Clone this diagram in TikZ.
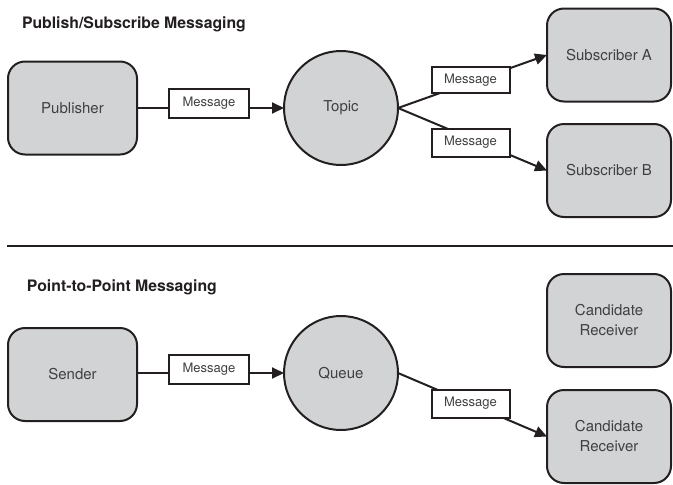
\documentclass[tikz,border=0pt]{standalone}
\usepackage{fontspec}
\setmainfont{TeX Gyre Heros}
\usetikzlibrary{arrows.meta}
\definecolor{boxgray}{HTML}{D1D3D4}
\definecolor{ink}{HTML}{231F20}
\definecolor{labelgray}{HTML}{404040}
\begin{document}
\begin{tikzpicture}[x=1pt,y=-1pt,
  every node/.style={inner sep=0pt,outer sep=0pt},
  party/.style={draw=ink,line width=2pt,fill=boxgray,rounded corners=17pt,
    minimum width=124pt,minimum height=93pt,align=center,
    font=\fontsize{15}{20}\selectfont,text=labelgray},
  hub/.style={draw=ink,line width=2pt,fill=boxgray,circle,minimum size=114pt,
    font=\fontsize{15}{20}\selectfont,text=labelgray},
  msgbox/.style={draw=ink,line width=2pt,fill=white,minimum width=78pt,
    minimum height=28pt,font=\fontsize{13}{15}\selectfont,text=labelgray},
  flow/.style={draw=ink,line width=2pt,-{Triangle[length=12pt,width=11pt]}},
  title/.style={anchor=base west,font=\fontsize{15.8}{18}\selectfont\bfseries,text=ink}]
\useasboundingbox (0,0) rectangle (673,485);

% Publish/Subscribe section
\node[title] (t1) at (22,28) {Publish/Subscribe Messaging};
\node[party,minimum width=129pt] (pub) at (72.5,108) {Publisher};
\node[hub] (topic) at (341,108) {Topic};
\node[party] (subA) at (609,55) {Subscriber A};
\node[party] (subB) at (609,170.5) {Subscriber B};

\draw[flow] (pub.east) -- (topic.west);
\draw[flow] (topic.east) -- (subA.west);
\draw[flow] (topic.east) -- (subB.west);

\node[msgbox,minimum width=80pt,minimum height=29pt] (m1) at (209,103.5) {Message};
\node[msgbox,minimum height=26pt] (m2) at (470.5,80) {Message};
\node[msgbox] (m3) at (470.5,142.5) {Message};

% divider
\coordinate (dl) at (7,246);
\coordinate (dr) at (673,246);
\draw[ink,line width=1.8pt] (dl) -- (dr);

% Point-to-Point section
\node[title] (t2) at (27,291.5) {Point-to-Point Messaging};
\node[party,minimum width=129pt] (snd) at (72.5,374.5) {Sender};
\node[hub] (queue) at (341,373) {Queue};
\node[party] (rc1) at (609,320.5) {Candidate\\Receiver};
\node[party] (rc2) at (609,436.5) {Candidate\\Receiver};

\draw[flow] (snd.east |- queue.west) -- (queue.west);
\draw[flow] (queue.east) -- (rc2.west);

\node[msgbox,minimum width=80pt,minimum height=29pt] (m4) at (209,369.5) {Message};
\node[msgbox] (m5) at (470.5,403.5) {Message};
\end{tikzpicture}
\end{document}
